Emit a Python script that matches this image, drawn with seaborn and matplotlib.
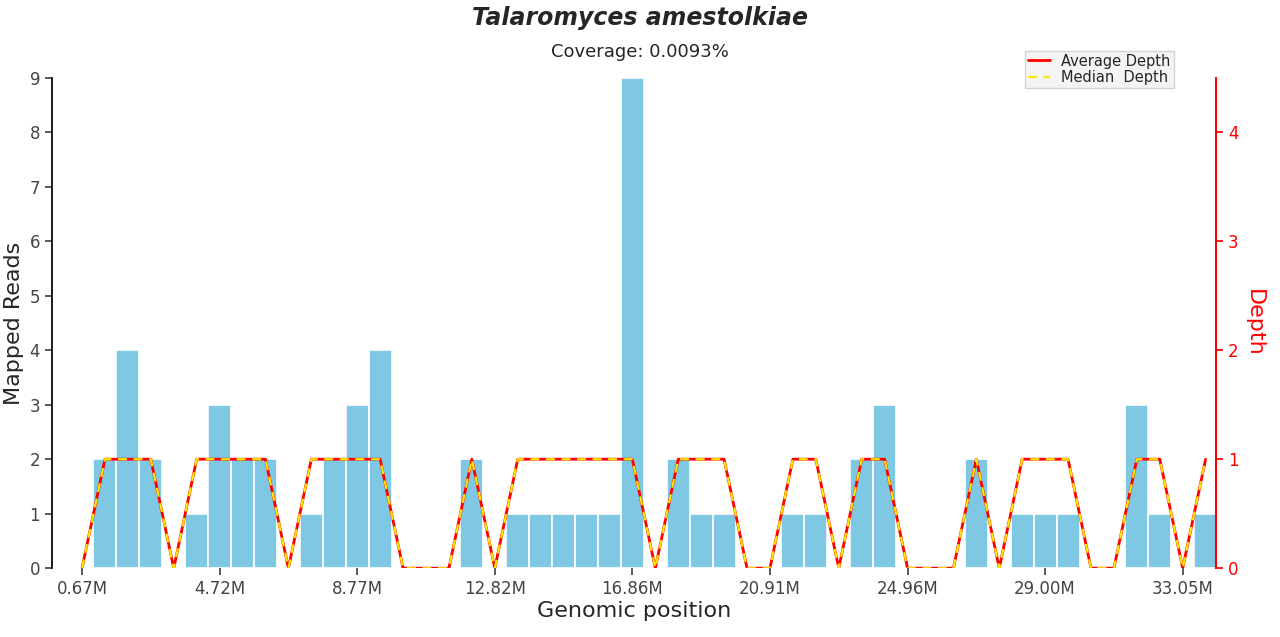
import numpy as np
import pandas as pd
import matplotlib
matplotlib.use("Agg")
import matplotlib.pyplot as plt
import seaborn as sns

sns.set_theme(style="white")
plt.rcParams["font.family"] = ["DejaVu Sans"]

# bin start positions (Mb), reads per bin and depth per bin
start_mb = 0.67
bin_mb = 0.675
reads = [0, 2, 4, 2, 0, 1, 3, 2, 2, 0, 1, 2, 3, 4, 0, 0, 0, 2, 0, 1,
         1, 1, 1, 1, 9, 0, 2, 1, 1, 0, 0, 1, 1, 0, 2, 3, 0, 0, 0, 2,
         0, 1, 1, 1, 0, 0, 3, 1, 0, 1]
avg_depth = [0, 1, 1, 1, 0, 1, 1, 1, 1, 0, 1, 1, 1, 1, 0, 0, 0, 1, 0, 1,
             1, 1, 1, 1, 1, 0, 1, 1, 1, 0, 0, 1, 1, 0, 1, 1, 0, 0, 0, 1,
             0, 1, 1, 1, 0, 0, 1, 1, 0, 1]
median_depth = list(avg_depth)
tick_labels = ["0.67M", "4.72M", "8.77M", "12.82M", "16.86M", "20.91M", "24.96M", "29.00M", "33.05M"]

df = pd.DataFrame({"pos": start_mb + bin_mb * np.arange(len(reads)),
                   "reads": reads, "avg": avg_depth, "med": median_depth})

fig = plt.figure(figsize=(12.8, 6.37), dpi=100)
ax = fig.add_axes([0.0406, 0.108, 0.9094, 0.77])
ax.bar(df.pos, df.reads, width=bin_mb, color="#7EC8E3", edgecolor="white", linewidth=1.2)
xlim = (-0.215, 34.05)
ax.set_xlim(*xlim)
ax.set_ylim(0, 9)
ax.set_yticks(range(10))
ticks = start_mb + bin_mb * np.arange(0, 49, 6)
ax.set_xticks(ticks)
ax.set_xticklabels(tick_labels)
ax.tick_params(axis="both", labelsize=12, colors="#444444", length=5, direction="out",
               bottom=True, left=True)
ax.set_xlabel("Genomic position", fontsize=16, labelpad=2)
ax.set_ylabel("Mapped Reads", fontsize=16)
for s in ["top", "right", "bottom"]:
    ax.spines[s].set_visible(False)
ax.spines["left"].set_color("black")

ax2 = ax.twinx()
sns.lineplot(data=df, x="pos", y="avg", ax=ax2, color="red", linewidth=2, label="Average Depth")
sns.lineplot(data=df, x="pos", y="med", ax=ax2, color="#FFE600", linewidth=1.6,
             linestyle=(0, (4, 3)), label="Median  Depth")
ax2.set_ylim(0, 4.5)
ax2.set_yticks(range(5))
ax2.set_xlim(*xlim)
ax2.set_ylabel("Depth", color="red", fontsize=16, rotation=270, labelpad=18)
ax2.tick_params(axis="y", colors="red", labelsize=12, length=5, right=True)
for s in ["top", "left", "bottom"]:
    ax2.spines[s].set_visible(False)
ax2.spines["right"].set_color("red")
ax2.spines["right"].set_linewidth(1.5)
ax2.legend(loc="upper right", bbox_to_anchor=(0.97, 1.07), fontsize=10.5, frameon=True,
           facecolor="#f2f2f2", edgecolor="#cccccc", fancybox=False, borderpad=0.2,
           labelspacing=0.1, handlelength=1.5)

fig.text(0.5, 0.972, "Talaromyces amestolkiae", ha="center", va="center",
         fontsize=17, fontweight="bold", style="italic")
fig.text(0.5, 0.918, "Coverage: 0.0093%", ha="center", va="center", fontsize=13)

fig.savefig("out.png", dpi=100)
